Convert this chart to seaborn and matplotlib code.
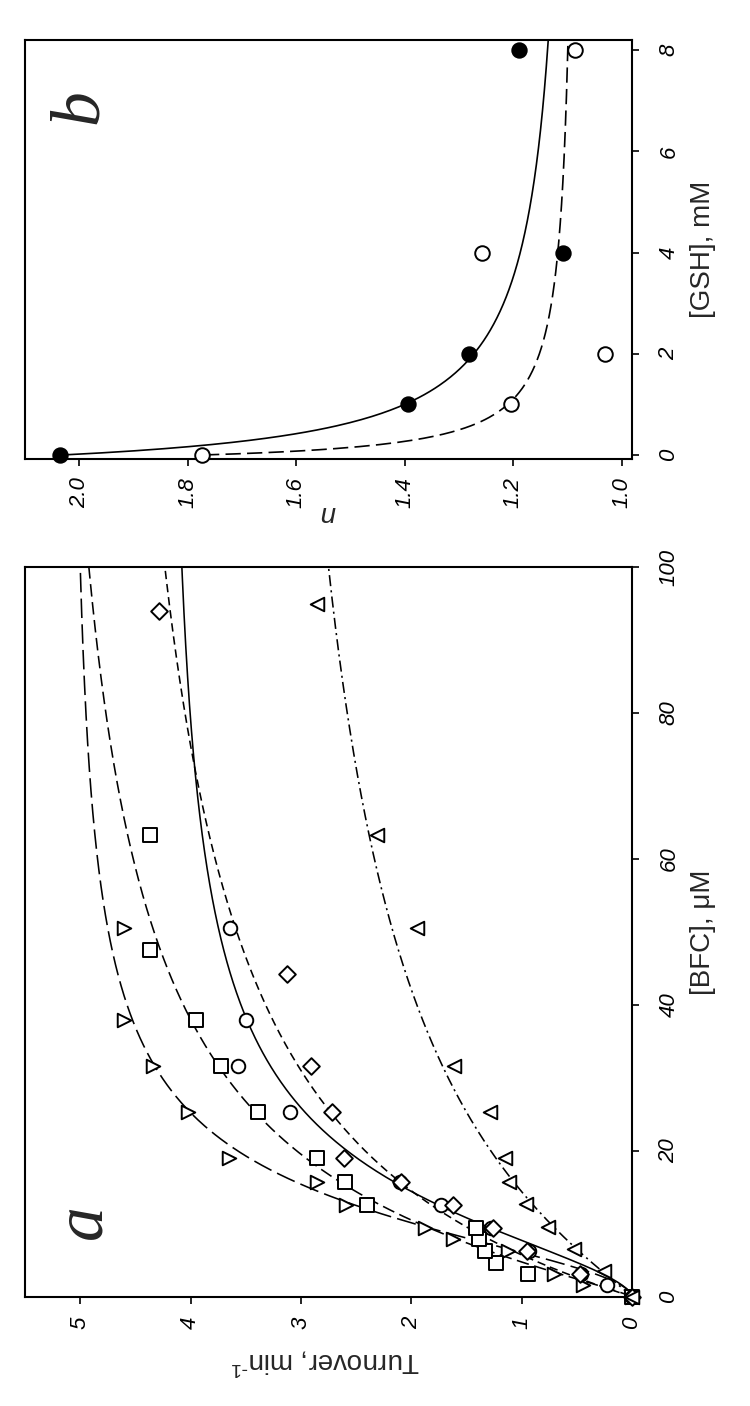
import numpy as np
import pandas as pd
import matplotlib
matplotlib.use("Agg")
import matplotlib.pyplot as plt
import seaborn as sns

# ---------------- data: panel a (turnover vs [BFC]) ----------------
bfc_tri_r = [0, 1.6, 3.2, 6.3, 7.9, 9.5, 12.6, 15.8, 19.0, 25.3, 31.6, 38.0, 50.6]
turn_tri_r = [0, 0.44, 0.71, 1.12, 1.62, 1.88, 2.59, 2.85, 3.65, 4.02, 4.34, 4.60, 4.60]

bfc_square = [0, 3.2, 4.7, 6.3, 7.9, 9.5, 12.6, 15.8, 19.0, 25.3, 31.6, 38.0, 47.5, 63.3]
turn_square = [0, 0.94, 1.23, 1.33, 1.39, 1.41, 2.40, 2.60, 2.85, 3.39, 3.72, 3.95, 4.37, 4.37]

bfc_circle = [0, 1.6, 3.2, 6.3, 9.5, 12.6, 15.8, 25.3, 31.6, 38.0, 50.6]
turn_circle = [0, 0.23, 0.46, 0.93, 1.28, 1.73, 2.10, 3.10, 3.57, 3.50, 3.64]

bfc_diamond = [0, 3.2, 6.3, 9.5, 12.6, 15.8, 19.0, 25.3, 31.6, 44.3, 94.0]
turn_diamond = [0, 0.47, 0.95, 1.26, 1.62, 2.09, 2.61, 2.72, 2.91, 3.13, 4.29]

bfc_tri_l = [0, 3.5, 6.6, 9.6, 12.8, 15.8, 19.0, 25.3, 31.6, 50.6, 63.3, 95.0]
turn_tri_l = [0, 0.25, 0.53, 0.76, 0.96, 1.11, 1.15, 1.29, 1.61, 1.95, 2.31, 2.85]

# Hill-fit parameters of the curves (Vmax, S50, h)
fit_tri_r = (5.1, 12.8, 1.9)
fit_square = (5.5, 16.8, 1.2)
fit_circle = (4.25, 15.5, 1.7)
fit_diamond = (5.1, 22.1, 1.05)
fit_tri_l = (3.6, 34.4, 1.1)

turnover_ticks = [0, 1, 2, 3, 4, 5]
bfc_ticks = [0, 20, 40, 60, 80, 100]

# ---------------- data: panel b (n vs [GSH]) ----------------
gsh = [0, 1, 2, 4, 8]
n_filled = [2.035, 1.394, 1.282, 1.108, 1.19]
n_open = [1.773, 1.204, 1.031, 1.258, 1.086]
# hyperbolic decay fits (n0, n_inf, K)
fit_filled = (2.03, 1.08, 0.508)
fit_open = (1.77, 1.08, 0.232)

n_ticks = [1.0, 1.2, 1.4, 1.6, 1.8, 2.0]
gsh_ticks = [0, 2, 4, 6, 8]

# ---------------- style ----------------
sns.set_style("white")
plt.rcParams.update({
    "font.family": ["Liberation Sans", "DejaVu Sans"],
    "mathtext.fontset": "custom",
    "mathtext.rm": "Liberation Sans",
    "mathtext.it": "Liberation Sans:italic",
    "lines.scale_dashes": False,
    "axes.edgecolor": "black",
    "axes.linewidth": 1.5,
    "xtick.color": "black",
    "ytick.color": "black",
    "xtick.direction": "out",
    "ytick.direction": "out",
})

W, H = 750, 1406
fig = plt.figure(figsize=(W / 100, H / 100), dpi=100)
axb = fig.add_axes([25 / W, (H - 459) / H, 607 / W, 419 / H])
axa = fig.add_axes([25 / W, (H - 1297) / H, 607 / W, 730 / H])

# ---------------- panel a ----------------
s_grid = np.linspace(0, 100, 500)
fits = {"tri_r": fit_tri_r, "square": fit_square, "circle": fit_circle,
        "diamond": fit_diamond, "tri_l": fit_tri_l}
frames = []
for name, (vmax, k, h) in fits.items():
    t = vmax * s_grid ** h / (k ** h + s_grid ** h)
    frames.append(pd.DataFrame({"turnover": t, "bfc": s_grid, "curve": name}))
curves_a = pd.concat(frames, ignore_index=True)
dash_map = {"tri_r": (14, 4.5), "square": (9, 4), "circle": "",
            "diamond": (6, 3.5), "tri_l": (8, 3, 1.5, 3)}
sns.lineplot(data=curves_a, x="turnover", y="bfc", style="curve", dashes=dash_map,
             color="black", linewidth=1.15, estimator=None, sort=False,
             legend=False, ax=axa)

series_a = [
    (turn_tri_r, bfc_tri_r, ">", 95),
    (turn_square, bfc_square, "s", 88),
    (turn_circle, bfc_circle, "o", 95),
    (turn_diamond, bfc_diamond, "D", 72),
    (turn_tri_l, bfc_tri_l, "<", 95),
]
for tx, sy, mk, sz in series_a:
    sns.scatterplot(x=tx, y=sy, marker=mk, s=sz, facecolor="white",
                    edgecolor="black", linewidth=1.4, clip_on=False,
                    zorder=3, legend=False, ax=axa)

axa.set_xlim(5.5, 0)
axa.set_ylim(0, 100)
axa.set_xticks(turnover_ticks)
axa.set_xticklabels([str(v) for v in turnover_ticks])
axa.yaxis.tick_right()
axa.set_yticks(bfc_ticks)
axa.set_yticklabels([str(v) for v in bfc_ticks])
axa.tick_params(axis="x", bottom=True, top=False, length=5, width=1.2,
                pad=9, labelsize=16, labelrotation=90)
axa.tick_params(axis="y", left=False, right=True, labelleft=False,
                labelright=True, length=5, width=1.2, pad=14,
                labelsize=16, labelrotation=90)
plt.setp(axa.get_xticklabels() + axa.get_yticklabels(), fontstyle="italic")
plt.setp(axa.get_yticklabels(), va="center")

axa.set_xlabel("Turnover, min$^{\\text{-}1}$", fontsize=20, rotation=180,
               va="center", ha="center")
axa.xaxis.set_label_coords(0.494, -0.089)
axa.yaxis.set_label_position("right")
axa.set_ylabel("[BFC], μM", fontsize=20, rotation=90, va="center", ha="center")
axa.yaxis.set_label_coords(1.117, 0.5)
axa.text(0.097, 0.103, "a", transform=axa.transAxes, rotation=90, fontsize=50,
         family="Liberation Serif", style="italic", ha="center", va="center")

# ---------------- panel b ----------------
g_grid = np.linspace(0, 8.2, 400)
frames_b = []
for name, (n0, ninf, k) in {"filled": fit_filled, "open": fit_open}.items():
    nn = ninf + (n0 - ninf) / (1 + g_grid / k)
    frames_b.append(pd.DataFrame({"n": nn, "gsh": g_grid, "curve": name}))
curves_b = pd.concat(frames_b, ignore_index=True)
sns.lineplot(data=curves_b, x="n", y="gsh", style="curve",
             dashes={"filled": "", "open": (11, 4.5)}, color="black",
             linewidth=1.2, estimator=None, sort=False, legend=False, ax=axb)
sns.scatterplot(x=n_filled, y=gsh, marker="o", s=110, facecolor="black",
                edgecolor="black", linewidth=1.3, zorder=3, legend=False,
                clip_on=False, ax=axb)
sns.scatterplot(x=n_open, y=gsh, marker="o", s=110, facecolor="white",
                edgecolor="black", linewidth=1.4, zorder=3, legend=False,
                clip_on=False, ax=axb)

axb.set_xlim(2.1, 0.981)
axb.set_ylim(-0.08, 8.2)
axb.set_xticks(n_ticks)
axb.set_xticklabels([f"{v:.1f}" for v in n_ticks])
axb.yaxis.tick_right()
axb.set_yticks(gsh_ticks)
axb.set_yticklabels([str(v) for v in gsh_ticks])
axb.tick_params(axis="x", bottom=True, top=False, length=5, width=1.2,
                pad=8, labelsize=16, labelrotation=90)
axb.tick_params(axis="y", left=False, right=True, labelleft=False,
                labelright=True, length=5, width=1.2, pad=14,
                labelsize=16, labelrotation=90)
plt.setp(axb.get_xticklabels() + axb.get_yticklabels(), fontstyle="italic")
plt.setp(axb.get_yticklabels(), va="center")

axb.set_xlabel("n", fontsize=20, rotation=180, fontstyle="italic",
               va="center", ha="center")
axb.xaxis.set_label_coords(0.499, -0.129)
axb.yaxis.set_label_position("right")
axb.set_ylabel("[GSH], mM", fontsize=20, rotation=90, va="center", ha="center")
axb.yaxis.set_label_coords(1.117, 0.5)
axb.text(0.091, 0.84, "b", transform=axb.transAxes, rotation=90, fontsize=50,
         family="Liberation Serif", style="italic", ha="center", va="center")

for ax in (axa, axb):
    for sp in ax.spines.values():
        sp.set_visible(True)
        sp.set_color("black")
        sp.set_linewidth(1.5)

fig.savefig("out.png", dpi=100, facecolor="white")
